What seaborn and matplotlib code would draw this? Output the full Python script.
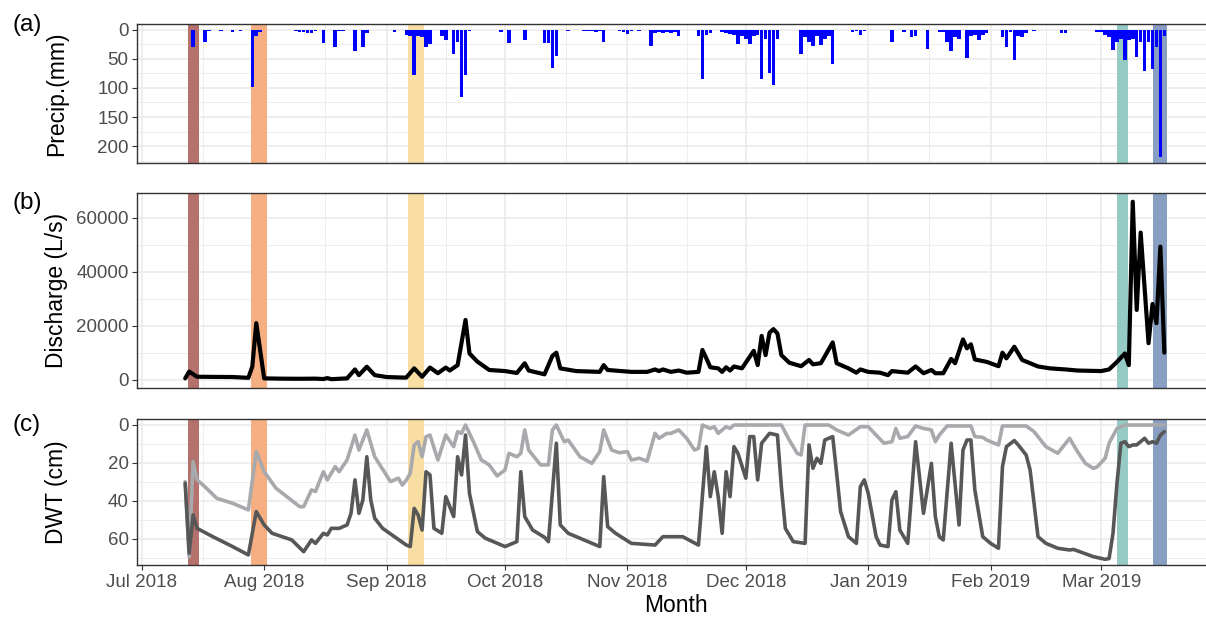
import numpy as np
import pandas as pd
import matplotlib
matplotlib.use("Agg")
import matplotlib.pyplot as plt
import matplotlib.dates as mdates
from matplotlib.ticker import FixedLocator, StrMethodFormatter
import seaborn as sns

# ---------------- data ----------------
precip_dates = [
    "2018-07-14", "2018-07-17", "2018-07-18", "2018-07-21", "2018-07-24", "2018-07-26",
    "2018-07-29", "2018-07-30", "2018-07-31", "2018-08-09", "2018-08-10", "2018-08-11",
    "2018-08-12", "2018-08-13", "2018-08-14", "2018-08-16", "2018-08-19", "2018-08-20",
    "2018-08-21", "2018-08-24", "2018-08-26", "2018-08-27", "2018-09-03", "2018-09-06",
    "2018-09-07", "2018-09-08", "2018-09-09", "2018-09-10", "2018-09-11", "2018-09-12",
    "2018-09-15", "2018-09-16", "2018-09-18", "2018-09-19", "2018-09-20", "2018-09-21",
    "2018-09-22", "2018-09-30", "2018-10-02", "2018-10-06", "2018-10-11", "2018-10-12",
    "2018-10-13", "2018-10-14", "2018-10-17", "2018-10-21", "2018-10-22", "2018-10-23",
    "2018-10-24", "2018-10-25", "2018-10-26", "2018-10-30", "2018-10-31", "2018-11-01",
    "2018-11-02", "2018-11-04", "2018-11-07", "2018-11-08", "2018-11-09", "2018-11-10",
    "2018-11-11", "2018-11-12", "2018-11-13", "2018-11-14", "2018-11-19", "2018-11-20",
    "2018-11-21", "2018-11-22", "2018-11-25", "2018-11-26", "2018-11-27", "2018-11-28",
    "2018-11-29", "2018-11-30", "2018-12-01", "2018-12-02", "2018-12-03", "2018-12-04",
    "2018-12-05", "2018-12-06", "2018-12-07", "2018-12-08", "2018-12-09", "2018-12-15",
    "2018-12-16", "2018-12-17", "2018-12-18", "2018-12-19", "2018-12-20", "2018-12-21",
    "2018-12-22", "2018-12-23", "2018-12-28", "2018-12-29", "2018-12-30", "2018-12-31",
    "2019-01-07", "2019-01-10", "2019-01-12", "2019-01-13", "2019-01-16", "2019-01-19",
    "2019-01-20", "2019-01-21", "2019-01-22", "2019-01-23", "2019-01-24", "2019-01-26",
    "2019-01-27", "2019-01-28", "2019-01-29", "2019-01-30", "2019-01-31", "2019-02-04",
    "2019-02-05", "2019-02-06", "2019-02-07", "2019-02-08", "2019-02-09", "2019-02-10",
    "2019-02-12", "2019-02-19", "2019-02-20", "2019-02-28", "2019-03-01", "2019-03-02",
    "2019-03-03", "2019-03-04", "2019-03-05", "2019-03-06", "2019-03-07", "2019-03-08",
    "2019-03-09", "2019-03-10", "2019-03-11", "2019-03-12", "2019-03-13", "2019-03-14",
    "2019-03-15", "2019-03-16", "2019-03-17",
]
precip_mm = [
    29, 21, 2, 2, 3, 2,
    98, 10, 3, 2, 4, 3,
    5, 5, 2, 22, 29, 2,
    2, 37, 29, 5, 3, 8,
    10, 78, 10, 12, 29, 25,
    10, 18, 41, 20, 115, 78,
    2, 4, 22, 18, 23, 23,
    66, 44, 2, 1, 2, 1,
    3, 2, 20, 2, 3, 7,
    2, 2, 28, 5, 3, 6,
    4, 6, 3, 10, 10, 84,
    8, 5, 3, 5, 7, 8,
    24, 10, 15, 24, 10, 8,
    84, 15, 75, 94, 15, 41,
    12, 20, 28, 10, 26, 15,
    10, 58, 3, 2, 8, 2,
    20, 3, 12, 10, 32, 3,
    3, 20, 37, 12, 15, 49,
    10, 8, 17, 8, 5, 12,
    29, 3, 52, 10, 12, 5,
    2, 6, 5, 3, 3, 8,
    12, 34, 20, 15, 51, 18,
    15, 46, 20, 71, 20, 68,
    30, 219, 10,
]

q_dates = [
    "2018-07-12", "2018-07-13", "2018-07-15", "2018-07-19", "2018-07-24", "2018-07-28",
    "2018-07-29", "2018-07-30", "2018-08-01", "2018-08-05", "2018-08-10", "2018-08-14",
    "2018-08-16", "2018-08-17", "2018-08-18", "2018-08-22", "2018-08-24", "2018-08-25",
    "2018-08-27", "2018-08-29", "2018-09-01", "2018-09-05", "2018-09-06", "2018-09-08",
    "2018-09-10", "2018-09-12", "2018-09-14", "2018-09-16", "2018-09-17", "2018-09-19",
    "2018-09-21", "2018-09-22", "2018-09-24", "2018-09-27", "2018-10-01", "2018-10-04",
    "2018-10-06", "2018-10-07", "2018-10-11", "2018-10-13", "2018-10-14", "2018-10-15",
    "2018-10-19", "2018-10-25", "2018-10-26", "2018-10-27", "2018-11-02", "2018-11-06",
    "2018-11-08", "2018-11-09", "2018-11-10", "2018-11-12", "2018-11-14", "2018-11-16",
    "2018-11-19", "2018-11-20", "2018-11-21", "2018-11-22", "2018-11-24", "2018-11-25",
    "2018-11-26", "2018-11-27", "2018-11-28", "2018-11-30", "2018-12-02", "2018-12-03",
    "2018-12-04", "2018-12-05", "2018-12-06", "2018-12-07", "2018-12-08", "2018-12-09",
    "2018-12-10", "2018-12-12", "2018-12-15", "2018-12-17", "2018-12-18", "2018-12-20",
    "2018-12-23", "2018-12-24", "2018-12-27", "2018-12-29", "2018-12-30", "2019-01-01",
    "2019-01-04", "2019-01-06", "2019-01-07", "2019-01-11", "2019-01-13", "2019-01-15",
    "2019-01-17", "2019-01-18", "2019-01-20", "2019-01-22", "2019-01-23", "2019-01-25",
    "2019-01-26", "2019-01-27", "2019-01-28", "2019-01-31", "2019-02-03", "2019-02-04",
    "2019-02-05", "2019-02-07", "2019-02-09", "2019-02-13", "2019-02-16", "2019-02-20",
    "2019-02-23", "2019-03-01", "2019-03-03", "2019-03-05", "2019-03-07", "2019-03-08",
    "2019-03-09", "2019-03-10", "2019-03-11", "2019-03-12", "2019-03-13", "2019-03-14",
    "2019-03-15", "2019-03-16", "2019-03-17",
]
q_ls = [
    600, 3100, 1200, 1150, 1100, 800,
    5000, 21000, 600, 500, 450, 500,
    350, 700, 300, 600, 3900, 1800,
    4900, 1800, 1100, 900, 900, 4300,
    1200, 4600, 2500, 4600, 3500, 5500,
    22200, 9800, 6800, 3700, 3300, 2600,
    6200, 3500, 2100, 8900, 10100, 4300,
    3300, 3000, 5500, 3700, 3000, 3000,
    3900, 3300, 3900, 3000, 3500, 2700,
    3000, 11100, 8000, 4700, 4300, 3000,
    4700, 3500, 5000, 4300, 8600, 10800,
    5500, 16300, 9200, 17500, 18800, 17200,
    9200, 6400, 5100, 7400, 5800, 6200,
    13900, 6200, 4300, 2700, 3900, 3000,
    2700, 1800, 3300, 2700, 5000, 2500,
    3700, 2500, 2500, 7800, 6200, 15000,
    11700, 13200, 7600, 6700, 5100, 10100,
    8000, 12300, 7400, 5000, 4300, 3900,
    3500, 3300, 3900, 6700, 9800, 5500,
    65900, 25900, 54500, 34000, 13600, 28100,
    21000, 49300, 10100,
]

dwt_deep_dates = [
    "2018-07-12", "2018-07-13", "2018-07-14", "2018-07-15", "2018-07-19", "2018-07-24",
    "2018-07-28", "2018-07-30", "2018-08-01", "2018-08-03", "2018-08-08", "2018-08-11",
    "2018-08-13", "2018-08-14", "2018-08-16", "2018-08-17", "2018-08-18", "2018-08-20",
    "2018-08-22", "2018-08-23", "2018-08-24", "2018-08-25", "2018-08-26", "2018-08-27",
    "2018-08-28", "2018-08-29", "2018-08-31", "2018-09-06", "2018-09-07", "2018-09-08",
    "2018-09-09", "2018-09-10", "2018-09-11", "2018-09-12", "2018-09-13", "2018-09-15",
    "2018-09-16", "2018-09-17", "2018-09-18", "2018-09-19", "2018-09-20", "2018-09-21",
    "2018-09-22", "2018-09-24", "2018-09-26", "2018-10-01", "2018-10-04", "2018-10-05",
    "2018-10-06", "2018-10-08", "2018-10-11", "2018-10-12", "2018-10-14", "2018-10-15",
    "2018-10-17", "2018-10-25", "2018-10-26", "2018-10-27", "2018-10-29", "2018-11-02",
    "2018-11-08", "2018-11-10", "2018-11-15", "2018-11-19", "2018-11-21", "2018-11-22",
    "2018-11-23", "2018-11-24", "2018-11-25", "2018-11-26", "2018-11-27", "2018-11-28",
    "2018-11-29", "2018-12-01", "2018-12-02", "2018-12-03", "2018-12-04", "2018-12-05",
    "2018-12-07", "2018-12-09", "2018-12-10", "2018-12-11", "2018-12-13", "2018-12-16",
    "2018-12-17", "2018-12-18", "2018-12-19", "2018-12-20", "2018-12-21", "2018-12-23",
    "2018-12-24", "2018-12-25", "2018-12-27", "2018-12-29", "2018-12-30", "2018-12-31",
    "2019-01-01", "2019-01-03", "2019-01-04", "2019-01-06", "2019-01-07", "2019-01-08",
    "2019-01-09", "2019-01-11", "2019-01-13", "2019-01-15", "2019-01-17", "2019-01-18",
    "2019-01-19", "2019-01-20", "2019-01-22", "2019-01-24", "2019-01-25", "2019-01-26",
    "2019-01-27", "2019-01-28", "2019-01-30", "2019-02-01", "2019-02-03", "2019-02-04",
    "2019-02-05", "2019-02-07", "2019-02-08", "2019-02-10", "2019-02-11", "2019-02-13",
    "2019-02-15", "2019-02-18", "2019-02-21", "2019-02-22", "2019-02-27", "2019-03-02",
    "2019-03-03", "2019-03-04", "2019-03-05", "2019-03-06", "2019-03-07", "2019-03-08",
    "2019-03-09", "2019-03-10", "2019-03-12", "2019-03-13", "2019-03-14", "2019-03-15",
    "2019-03-16", "2019-03-17",
]
dwt_deep_cm = [
    30.7, 67.5, 47.4, 54.4, 58.8, 64.0,
    68.4, 45.6, 52.6, 57.0, 60.5, 66.7,
    60.5, 62.3, 57.0, 57.9, 54.4, 54.4,
    52.6, 46.5, 28.9, 46.5, 39.5, 16.7,
    39.5, 49.1, 54.4, 63.2, 64.0, 43.9,
    47.4, 55.3, 24.6, 26.3, 54.4, 57.0,
    37.7, 43.0, 48.2, 16.7, 26.3, 5.3,
    36.0, 56.1, 59.6, 64.0, 61.4, 24.6,
    48.2, 55.3, 59.1, 61.4, 9.6, 52.6,
    57.0, 64.0, 27.2, 53.5, 57.0, 62.3,
    63.2, 58.8, 58.8, 63.2, 11.4, 37.7,
    24.6, 37.7, 57.0, 24.6, 37.7, 11.4,
    14.9, 28.0, 6.1, 6.1, 28.9, 9.6,
    4.4, 5.3, 32.5, 54.4, 61.4, 62.3,
    10.5, 22.8, 17.5, 20.2, 7.9, 6.1,
    25.4, 45.6, 58.8, 62.3, 32.5, 28.9,
    36.0, 58.8, 63.2, 64.0, 39.5, 35.1,
    55.3, 62.3, 8.8, 46.5, 20.2, 48.2,
    58.8, 60.5, 9.6, 52.6, 13.2, 7.9,
    7.9, 34.2, 58.8, 62.3, 64.9, 21.9,
    11.4, 8.2, 10.5, 15.8, 23.7, 58.8,
    62.3, 64.9, 65.8, 65.5, 69.3, 70.7,
    70.3, 57.0, 30.7, 9.6, 8.8, 11.4,
    10.5, 10.5, 7.0, 9.6, 8.8, 9.6,
    5.3, 3.5,
]

dwt_shallow_dates = [
    "2018-07-12", "2018-07-13", "2018-07-14", "2018-07-15", "2018-07-17", "2018-07-20",
    "2018-07-24", "2018-07-28", "2018-07-30", "2018-08-01", "2018-08-04", "2018-08-10",
    "2018-08-11", "2018-08-13", "2018-08-14", "2018-08-16", "2018-08-17", "2018-08-19",
    "2018-08-20", "2018-08-22", "2018-08-24", "2018-08-25", "2018-08-27", "2018-08-29",
    "2018-09-02", "2018-09-04", "2018-09-05", "2018-09-06", "2018-09-07", "2018-09-08",
    "2018-09-09", "2018-09-10", "2018-09-11", "2018-09-12", "2018-09-14", "2018-09-16",
    "2018-09-18", "2018-09-19", "2018-09-20", "2018-09-21", "2018-09-23", "2018-09-25",
    "2018-09-27", "2018-09-29", "2018-10-01", "2018-10-02", "2018-10-04", "2018-10-05",
    "2018-10-06", "2018-10-07", "2018-10-10", "2018-10-12", "2018-10-13", "2018-10-14",
    "2018-10-16", "2018-10-17", "2018-10-20", "2018-10-23", "2018-10-25", "2018-10-26",
    "2018-10-28", "2018-10-30", "2018-11-01", "2018-11-02", "2018-11-04", "2018-11-06",
    "2018-11-08", "2018-11-09", "2018-11-11", "2018-11-12", "2018-11-14", "2018-11-16",
    "2018-11-18", "2018-11-19", "2018-11-20", "2018-11-22", "2018-11-23", "2018-11-24",
    "2018-11-26", "2018-11-27", "2018-11-28", "2018-12-10", "2018-12-12", "2018-12-14",
    "2018-12-15", "2018-12-16", "2018-12-22", "2018-12-24", "2018-12-27", "2018-12-30",
    "2019-01-01", "2019-01-03", "2019-01-05", "2019-01-07", "2019-01-08", "2019-01-09",
    "2019-01-11", "2019-01-13", "2019-01-15", "2019-01-17", "2019-01-18", "2019-01-19",
    "2019-01-21", "2019-01-27", "2019-01-28", "2019-01-30", "2019-01-31", "2019-02-03",
    "2019-02-04", "2019-02-10", "2019-02-12", "2019-02-15", "2019-02-18", "2019-02-21",
    "2019-02-23", "2019-02-25", "2019-02-27", "2019-02-28", "2019-03-02", "2019-03-03",
    "2019-03-05", "2019-03-07", "2019-03-17",
]
dwt_shallow_cm = [
    29.8, 69.3, 19.3, 28.9, 32.5, 38.6,
    41.2, 44.7, 14.0, 24.6, 33.3, 43.0,
    43.0, 34.2, 35.0, 24.6, 28.9, 21.9,
    24.6, 18.4, 5.3, 13.2, 2.6, 16.7,
    29.8, 28.0, 31.6, 29.0, 25.4, 10.5,
    8.8, 16.7, 6.1, 5.3, 18.4, 5.3,
    11.4, 3.5, 4.4, 0.0, 8.8, 18.4,
    21.0, 26.8, 23.7, 14.9, 16.7, 14.9,
    2.6, 13.2, 21.0, 21.0, 2.6, 0.0,
    8.8, 7.9, 16.7, 20.2, 14.0, 2.6,
    13.2, 14.6, 14.0, 18.4, 17.5, 19.0,
    4.4, 7.0, 4.4, 4.4, 2.6, 7.0,
    13.2, 12.3, 0.0, 1.8, 0.9, 4.4,
    0.9, 1.8, 0.0, 0.0, 7.9, 14.9,
    15.8, 0.0, 0.0, 2.6, 5.3, 0.9,
    0.9, 5.3, 9.6, 8.8, 1.8, 7.0,
    6.1, 0.5, 1.8, 2.6, 8.8, 5.3,
    0.5, 0.5, 6.1, 6.5, 7.9, 10.5,
    0.5, 0.5, 3.5, 11.4, 14.9, 7.0,
    14.0, 20.2, 22.8, 22.0, 17.5, 9.6,
    1.8, 0.0, 0.0,
]

event_start = ["2018-07-12 19:00", "2018-07-28 14:00", "2018-09-06 12:00",
               "2019-03-05 00:00", "2019-03-14 00:00"]
event_end = ["2018-07-15 14:00", "2018-08-01 17:00", "2018-09-10 12:00",
             "2019-03-07 22:00", "2019-03-17 19:00"]
event_colors = ["#B5716B", "#F5AF82", "#F8DEA2", "#95CAC5", "#889EC3"]

panel_tags = ["(a)", "(b)", "(c)"]
y_titles = ["Precip.(mm)", "Discharge (L/s)", "DWT (cm)"]
x_title = "Month"

# ---------------- frames ----------------
precip = pd.DataFrame({"date": pd.to_datetime(precip_dates), "mm": precip_mm})
flow = pd.DataFrame({"date": pd.to_datetime(q_dates), "Q": q_ls})
deep = pd.DataFrame({"date": pd.to_datetime(dwt_deep_dates), "DWT": dwt_deep_cm})
shallow = pd.DataFrame({"date": pd.to_datetime(dwt_shallow_dates), "DWT": dwt_shallow_cm})

# ---------------- style ----------------
sns.set_theme(style="white")
plt.rcParams['font.family'] = ['Liberation Sans', 'DejaVu Sans']

W, H = 1206, 617
fig = plt.figure(figsize=(W / 100, H / 100), dpi=100)
L, R = 137, 1216


def axes_px(top, bottom):
    return fig.add_axes([L / W, 1 - bottom / H, (R - L) / W, (bottom - top) / H])


ax1 = axes_px(24.0, 163.3)
ax2 = axes_px(193.3, 388.3)
ax3 = axes_px(419.3, 565.0)
axes = [ax1, ax2, ax3]

xmin = pd.Timestamp("2018-06-29 19:00")
xmax = pd.Timestamp("2019-03-30 02:00")
month_starts = pd.date_range("2018-06-01", "2019-05-01", freq="MS")
mid_months = month_starts[:-1] + (month_starts[1:] - month_starts[:-1]) / 2

grid_c = "#EBEBEB"
for ax in axes:
    ax.set_facecolor("white")
    ax.set_axisbelow(True)
    ax.xaxis.set_major_locator(mdates.MonthLocator())
    ax.xaxis.set_minor_locator(FixedLocator(mdates.date2num(mid_months)))
    ax.grid(which="major", color=grid_c, linewidth=1.2)
    ax.grid(which="minor", color=grid_c, linewidth=0.6)
    for s in ax.spines.values():
        s.set_color("#333333")
        s.set_linewidth(1.0)
    for st, en, col in zip(event_start, event_end, event_colors):
        ax.axvspan(pd.Timestamp(st), pd.Timestamp(en), color=col, lw=0, zorder=1)
    ax.set_xlim(xmin, xmax)
    ax.tick_params(axis="y", which="major", length=3.6, width=0.8, color="#333333",
                   labelsize=13.5, labelcolor="#4D4D4D", pad=2.4, left=True)
    ax.tick_params(axis="both", which="minor", length=0)

# (a) precipitation
ax1.bar(precip["date"], precip["mm"], width=0.9, color="#0000FF", linewidth=0, zorder=2)
ax1.set_ylim(229.8, -10.3)
ax1.yaxis.set_major_locator(FixedLocator([0, 50, 100, 150, 200]))
ax1.yaxis.set_minor_locator(FixedLocator([25, 75, 125, 175, 225]))

# (b) discharge
sns.lineplot(data=flow, x="date", y="Q", ax=ax2, color="black", linewidth=3.0, zorder=3)
ax2.set_ylim(-3070, 69020)
ax2.yaxis.set_major_locator(FixedLocator([0, 20000, 40000, 60000]))
ax2.yaxis.set_minor_locator(FixedLocator([10000, 30000, 50000]))
ax2.yaxis.set_major_formatter(StrMethodFormatter("{x:.0f}"))

# (c) depth to water table
sns.lineplot(data=shallow, x="date", y="DWT", ax=ax3, color="#A7A9AC", linewidth=2.6, zorder=3)
sns.lineplot(data=deep, x="date", y="DWT", ax=ax3, color="#575757", linewidth=2.6, zorder=4)
ax3.set_ylim(73.7, -3.0)
ax3.yaxis.set_major_locator(FixedLocator([0, 20, 40, 60]))
ax3.yaxis.set_minor_locator(FixedLocator([10, 30, 50, 70]))

for ax in (ax1, ax2):
    ax.tick_params(axis="x", which="both", length=0, labelbottom=False)
    ax.set_xlabel("")
ax3.xaxis.set_major_formatter(mdates.DateFormatter("%b %Y"))
ax3.tick_params(axis="x", which="major", length=3.6, width=0.8, color="#333333",
                labelsize=13.5, labelcolor="#4D4D4D", pad=3.0, bottom=True)
ax3.set_xlabel("")
for ax in axes:
    ax.set_xlim(xmin, xmax)

for ax, t in zip(axes, y_titles):
    ax.set_ylabel(t, fontsize=16.5, color="black", va="center")
    ax.yaxis.set_label_coords((57 - L) / (R - L), 0.5)

fig.text(676 / W, 1 - 605 / H, x_title, ha="center", va="center", fontsize=16.5, color="black")
for tag, yc in zip(panel_tags, [25.5, 203.0, 425.0]):
    fig.text(13 / W, 1 - yc / H, tag, ha="left", va="center", fontsize=17.5, color="black")

fig.savefig("out.png", dpi=100)
